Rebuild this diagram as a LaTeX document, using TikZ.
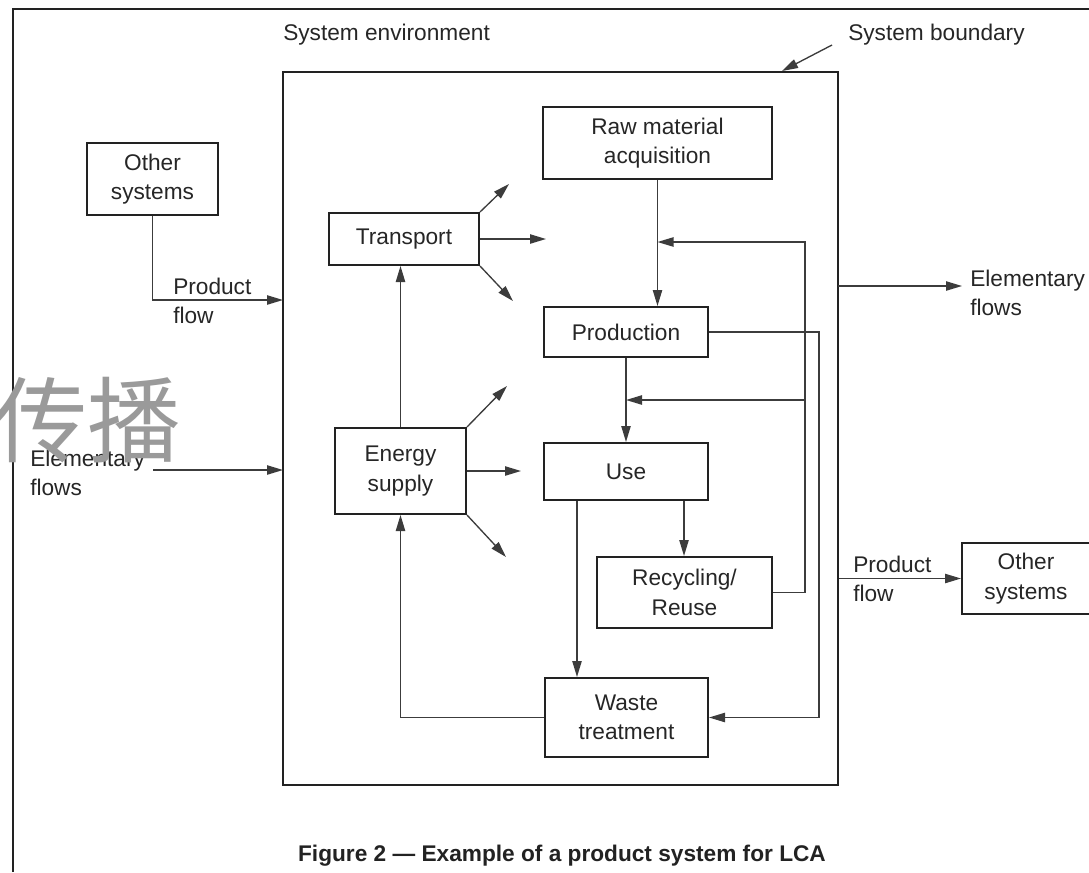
\documentclass[tikz,border=0pt]{standalone}
\usepackage{fontspec}
\setmainfont{Liberation Sans}
\newfontfamily\cjkfont{Noto Sans CJK SC}
\usetikzlibrary{arrows.meta,fit,calc}
\definecolor{ink}{HTML}{222222}
\definecolor{wire}{HTML}{3C3C3C}
\definecolor{txt}{HTML}{262626}
\definecolor{stamp}{HTML}{9A9A9A}

\begin{document}
\begin{tikzpicture}[x=0.75pt,y=-0.75pt,
  font=\fontsize{17}{22}\selectfont,
  box/.style={draw=ink, line width=1.5pt, inner sep=0pt},
  boxtext/.style={inner sep=0pt, align=center, text=txt},
  wire/.style={draw=wire, line width=1pt},
  arr/.style={wire, -{Triangle[length=12pt,width=7pt]}},
  lbl/.style={inner sep=0pt, align=left, text=txt}]

\useasboundingbox (0,0) rectangle (1089,872);

% page frame (top and left rules)
\draw[ink, line width=2.2pt] (13,872) -- (13,9) -- (1089,9);

% system boundary
\node[draw=ink, line width=2pt, inner sep=0pt, fit={(283,72) (838,785)}] (bnd) {};
\node[lbl, anchor=west] (envlbl) at (283,35) {System environment};
\node[lbl, anchor=west] (bndlbl) at (848,35) {System boundary};
\coordinate (bndtip) at (782,71);
\coordinate (bndtail) at (832,45);
\draw[arr] (bndtail) -- (bndtip);

% processes
\node[box, fit={(543,107) (772,179)}] (raw) {};
\node[boxtext] (rawtxt) at (raw.center) {Raw material\\acquisition};
\node[box, fit={(329,213) (479,265)}] (transport) {};
\node[boxtext] (transporttxt) at (transport.center) {Transport};
\node[box, fit={(544,307) (708,357)}] (prod) {};
\node[boxtext] (prodtxt) at (prod.center) {Production};
\node[box, fit={(335,428) (466,514)}] (energy) {};
\node[boxtext] (energytxt) at (energy.center) {Energy\\supply};
\node[box, fit={(544,443) (708,500)}] (use) {};
\node[boxtext] (usetxt) at (use.center) {Use};
\node[box, fit={(597,557) (772,628)}] (rec) {};
\node[boxtext] (rectxt) at (rec.center) {Recycling/\\Reuse};
\node[box, fit={(545,678) (708,757)}] (waste) {};
\node[boxtext] (wastetxt) at (waste.center) {Waste\\treatment};

% surrounding systems
\node[box, fit={(87,143) (218,215)}] (osl) {};
\node[boxtext] (osltxt) at (osl.center) {Other\\systems};
\node[box, fit={(962,543) (1094,614)}] (osr) {};
\node[boxtext] (osrtxt) at ($(osr.center)+(-2,0)$) {Other\\systems};

% main chain
\draw[arr] (raw.south) -- (raw.south |- prod.north);
\draw[arr] (prod.south) -- (use.north);
\coordinate (useR) at ($(use.south)+(58,0)$);
\coordinate (useL) at ($(use.south)+(-49,0)$);
\draw[arr] (useR) -- (useR |- rec.north);
\draw[arr] (useL) -- (useL |- waste.north);

% recycling loop back to production and use
\coordinate (j1) at (805,242);
\coordinate (j2) at (805,400);
\draw[arr] (rec.east) -| (j1) -- (j1 -| raw.south);
\draw[arr] (j2) -- (j2 -| prod.south);

% production residues to waste treatment
\draw[arr] (prod.east) -- ++(110,0) |- (waste.east);

% waste treatment recovers energy
\draw[arr] (waste.west) -| (energy.south);
\draw[arr] (energy.north) -- (energy.north |- transport.south);

% transport and energy distribution
\draw[arr] (transport.north east) -- ++(29,-28);
\draw[arr] (transport.east) -- ++(66,0);
\draw[arr] (transport.south east) -- ++(33,35);
\draw[arr] (energy.north east) -- ++(40,-41);
\draw[arr] (energy.east) -- ++(54,0);
\draw[arr] (energy.south east) -- ++(39,42);

% inputs from the left
\coordinate (pfin) at (283,300);
\draw[arr] (osl.south) |- (pfin);
\node[lbl, anchor=west] (pflL) at (173,301) {Product\\flow};
\node[lbl, anchor=west] (efL) at (30,473) {Elementary\\flows};
\coordinate (efLs) at (153,470);
\coordinate (efLe) at (283,470);
\draw[arr] (efLs) -- (efLe);

% outputs to the right
\coordinate (efRs) at (838,286);
\coordinate (efRe) at (962,286);
\draw[arr] (efRs) -- (efRe);
\node[lbl, anchor=west] (efR) at (970,293) {Elementary\\flows};
\draw[arr] (osr.west -| bnd.east) -- (osr.west);
\node[lbl, anchor=west] (pflR) at (853,579) {Product\\flow};

% caption
\node[text=ink, inner sep=0pt] (cap) at (562,856) {\bfseries Figure 2 --- Example of a product system for LCA};

% stamp
\node[text=stamp, inner sep=0pt, font=\cjkfont\fontsize{70}{70}\selectfont] (stampmark) at (88,420) {传播};

\end{tikzpicture}
\end{document}
